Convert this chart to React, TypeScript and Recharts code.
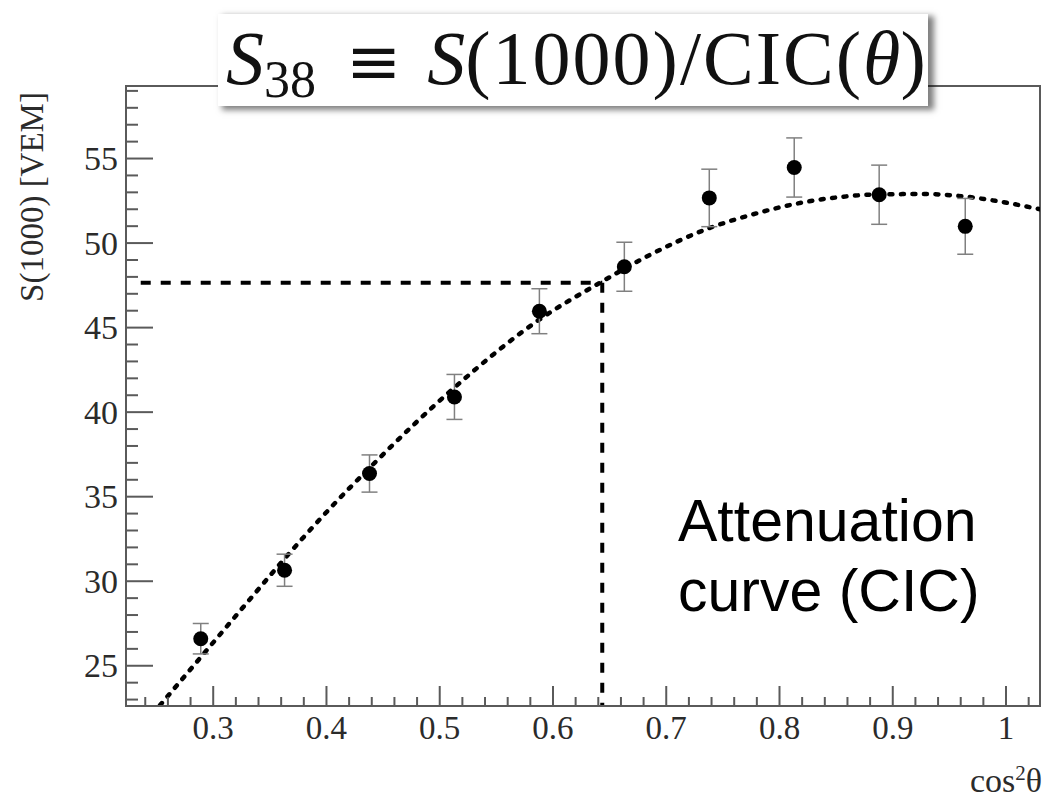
import React from 'react';
import {
  ComposedChart,
  Line,
  Scatter,
  XAxis,
  YAxis,
  ErrorBar,
  ReferenceLine,
  ReferenceArea,
} from 'recharts';

// measured points: cos^2(theta) vs S(1000) with errors
const cos2Theta = [0.289, 0.363, 0.438, 0.513, 0.588, 0.663, 0.738, 0.813, 0.888, 0.964];
const s1000 = [26.6, 30.65, 36.37, 40.9, 45.97, 48.6, 52.67, 54.47, 52.86, 50.99];
const s1000Err = [0.9, 0.95, 1.1, 1.33, 1.33, 1.45, 1.7, 1.75, 1.75, 1.65];

// fitted attenuation curve (CIC)
const cicX = [0.253, 0.294, 0.332, 0.36, 0.403, 0.441, 0.512, 0.5885, 0.644, 0.6856, 0.7386, 0.774, 0.8128, 0.8505, 0.888, 0.927, 0.964, 0.995, 1.03];
const cicY = [22.66, 25.9, 28.9, 31.1, 34.3, 36.9, 41.4, 45.5, 47.75, 49.3, 50.9, 51.65, 52.3, 52.7, 52.88, 52.9, 52.75, 52.45, 52.0];

// S38 reference reading
const refCos2 = 0.6435;
const refS = 47.65;

const xDomain = [0.223, 1.03];
const yDomain = [22.62, 59.29];
const xMajor = [0.3, 0.4, 0.5, 0.6, 0.7, 0.8, 0.9, 1];
const xLabels = ['0.3', '0.4', '0.5', '0.6', '0.7', '0.8', '0.9', '1'];
const yMajor = [25, 30, 35, 40, 45, 50, 55];

const xTicks: number[] = [];
for (let i = 12; i <= 51; i++) xTicks.push(Math.round(i * 2) / 100);
const yTicks: number[] = [];
for (let v = 23; v <= 59; v++) yTicks.push(v);

const points = cos2Theta.map((x, i) => ({ x, y: s1000[i], err: s1000Err[i] }));
const curve = cicX.map((x, i) => ({ x, y: cicY[i] }));

const AXIS = '#5a5a5a';
const TEXT = '#2b2b2b';
const SERIF = '"Liberation Serif", "Times New Roman", serif';

const XTick = (props: any) => {
  const { x, y, payload } = props;
  const idx = xMajor.findIndex((m) => Math.abs(m - payload.value) < 1e-6);
  const major = idx >= 0;
  return (
    <g>
      <line x1={x} x2={x} y1={y} y2={y - (major ? 20 : 9)} stroke={AXIS} strokeWidth={2} />
      {major && (
        <text x={x} y={y + 22} textAnchor="middle" dominantBaseline="central" fontFamily={SERIF} fontSize={33} fill={TEXT}>
          {xLabels[idx]}
        </text>
      )}
    </g>
  );
};

const YTick = (props: any) => {
  const { x, y, payload } = props;
  const major = yMajor.includes(payload.value);
  return (
    <g>
      <line x1={x} x2={x + (major ? 27 : 12)} y1={y} y2={y} stroke={AXIS} strokeWidth={2} />
      {major && (
        <text x={x - 8} y={y} textAnchor="end" dominantBaseline="central" fontFamily={SERIF} fontSize={34} fill={TEXT}>
          {payload.value}
        </text>
      )}
    </g>
  );
};

export default function App() {
  return (
    <div style={{ position: 'absolute', left: 0, top: 0, width: 1045, height: 798, background: '#fff', overflow: 'hidden' }}>
      <ComposedChart width={1045} height={798} margin={{ top: 86, right: 5, bottom: 0, left: 0 }}>
        <XAxis
          dataKey="x"
          type="number"
          domain={xDomain}
          allowDataOverflow
          ticks={xTicks}
          interval={0}
          tick={<XTick />}
          tickLine={false}
          tickSize={0}
          tickMargin={0}
          height={92}
          axisLine={{ stroke: AXIS, strokeWidth: 2 }}
        />
        <YAxis
          type="number"
          domain={yDomain}
          allowDataOverflow
          ticks={yTicks}
          interval={0}
          tick={<YTick />}
          tickLine={false}
          tickSize={0}
          tickMargin={0}
          width={126}
          axisLine={{ stroke: AXIS, strokeWidth: 2 }}
        />
        <ReferenceArea x1={xDomain[0]} x2={xDomain[1]} y1={yDomain[0]} y2={yDomain[1]} fill="none" stroke={AXIS} strokeWidth={2} />
        <ReferenceLine
          segment={[{ x: 0.236, y: refS }, { x: refCos2, y: refS }]}
          stroke="#000"
          strokeWidth={4}
          strokeDasharray="10 10"
        />
        <ReferenceLine
          segment={[{ x: refCos2, y: refS }, { x: refCos2, y: yDomain[0] }]}
          stroke="#000"
          strokeWidth={4}
          strokeDasharray="10 10"
        />
        <Line
          data={curve}
          dataKey="y"
          type="monotone"
          stroke="#000"
          strokeWidth={4.5}
          strokeDasharray="3 8.5"
          strokeLinecap="round"
          dot={false}
          activeDot={false}
          isAnimationActive={false}
        />
        <Scatter
          data={points}
          dataKey="y"
          isAnimationActive={false}
          shape={(p: any) => <circle cx={p.cx} cy={p.cy} r={7.5} fill="#000" />}
        >
          <ErrorBar dataKey="err" direction="y" width={8} stroke="#808080" strokeWidth={1.5} />
        </Scatter>
      </ComposedChart>

      {/* title box */}
      <div
        style={{
          position: 'absolute',
          left: 218,
          top: 14,
          width: 710,
          height: 92,
          background: '#fff',
          boxShadow: '5px 3px 6px 1px rgba(0,0,0,0.5)',
          fontFamily: SERIF,
          fontSize: 76,
          lineHeight: '88px',
          color: '#111',
          whiteSpace: 'nowrap',
          paddingLeft: 8,
          boxSizing: 'border-box',
        }}
      >
        <i>S</i>
        <span style={{ fontSize: 52, position: 'relative', top: 13 }}>38</span>
        <span style={{ margin: '0 26px 0 30px', fontFamily: '"DejaVu Serif", serif', fontSize: 66 }}>≡</span>
        <i>S</i>
        <span style={{ letterSpacing: 2 }}>(1000)/CIC(</span>
        <i>θ</i>)
      </div>

      {/* y axis title */}
      <div
        style={{
          position: 'absolute',
          left: 32,
          top: 197,
          transform: 'translate(-50%, -50%) rotate(-90deg)',
          fontFamily: SERIF,
          fontSize: 33,
          color: TEXT,
          whiteSpace: 'nowrap',
        }}
      >
        S(1000) [VEM]
      </div>

      {/* x axis title */}
      <div
        style={{
          position: 'absolute',
          right: 3,
          top: 764,
          fontFamily: SERIF,
          fontSize: 34,
          lineHeight: '34px',
          color: TEXT,
          whiteSpace: 'nowrap',
        }}
      >
        cos<span style={{ fontSize: 21, position: 'relative', top: -12 }}>2</span>θ
      </div>

      {/* annotation */}
      <div
        style={{
          position: 'absolute',
          left: 678,
          top: 486,
          fontFamily: '"Liberation Sans", Arial, sans-serif',
          fontSize: 59,
          lineHeight: '70px',
          color: '#000',
          whiteSpace: 'nowrap',
        }}
      >
        Attenuation
        <br />
        curve (CIC)
      </div>
    </div>
  );
}
